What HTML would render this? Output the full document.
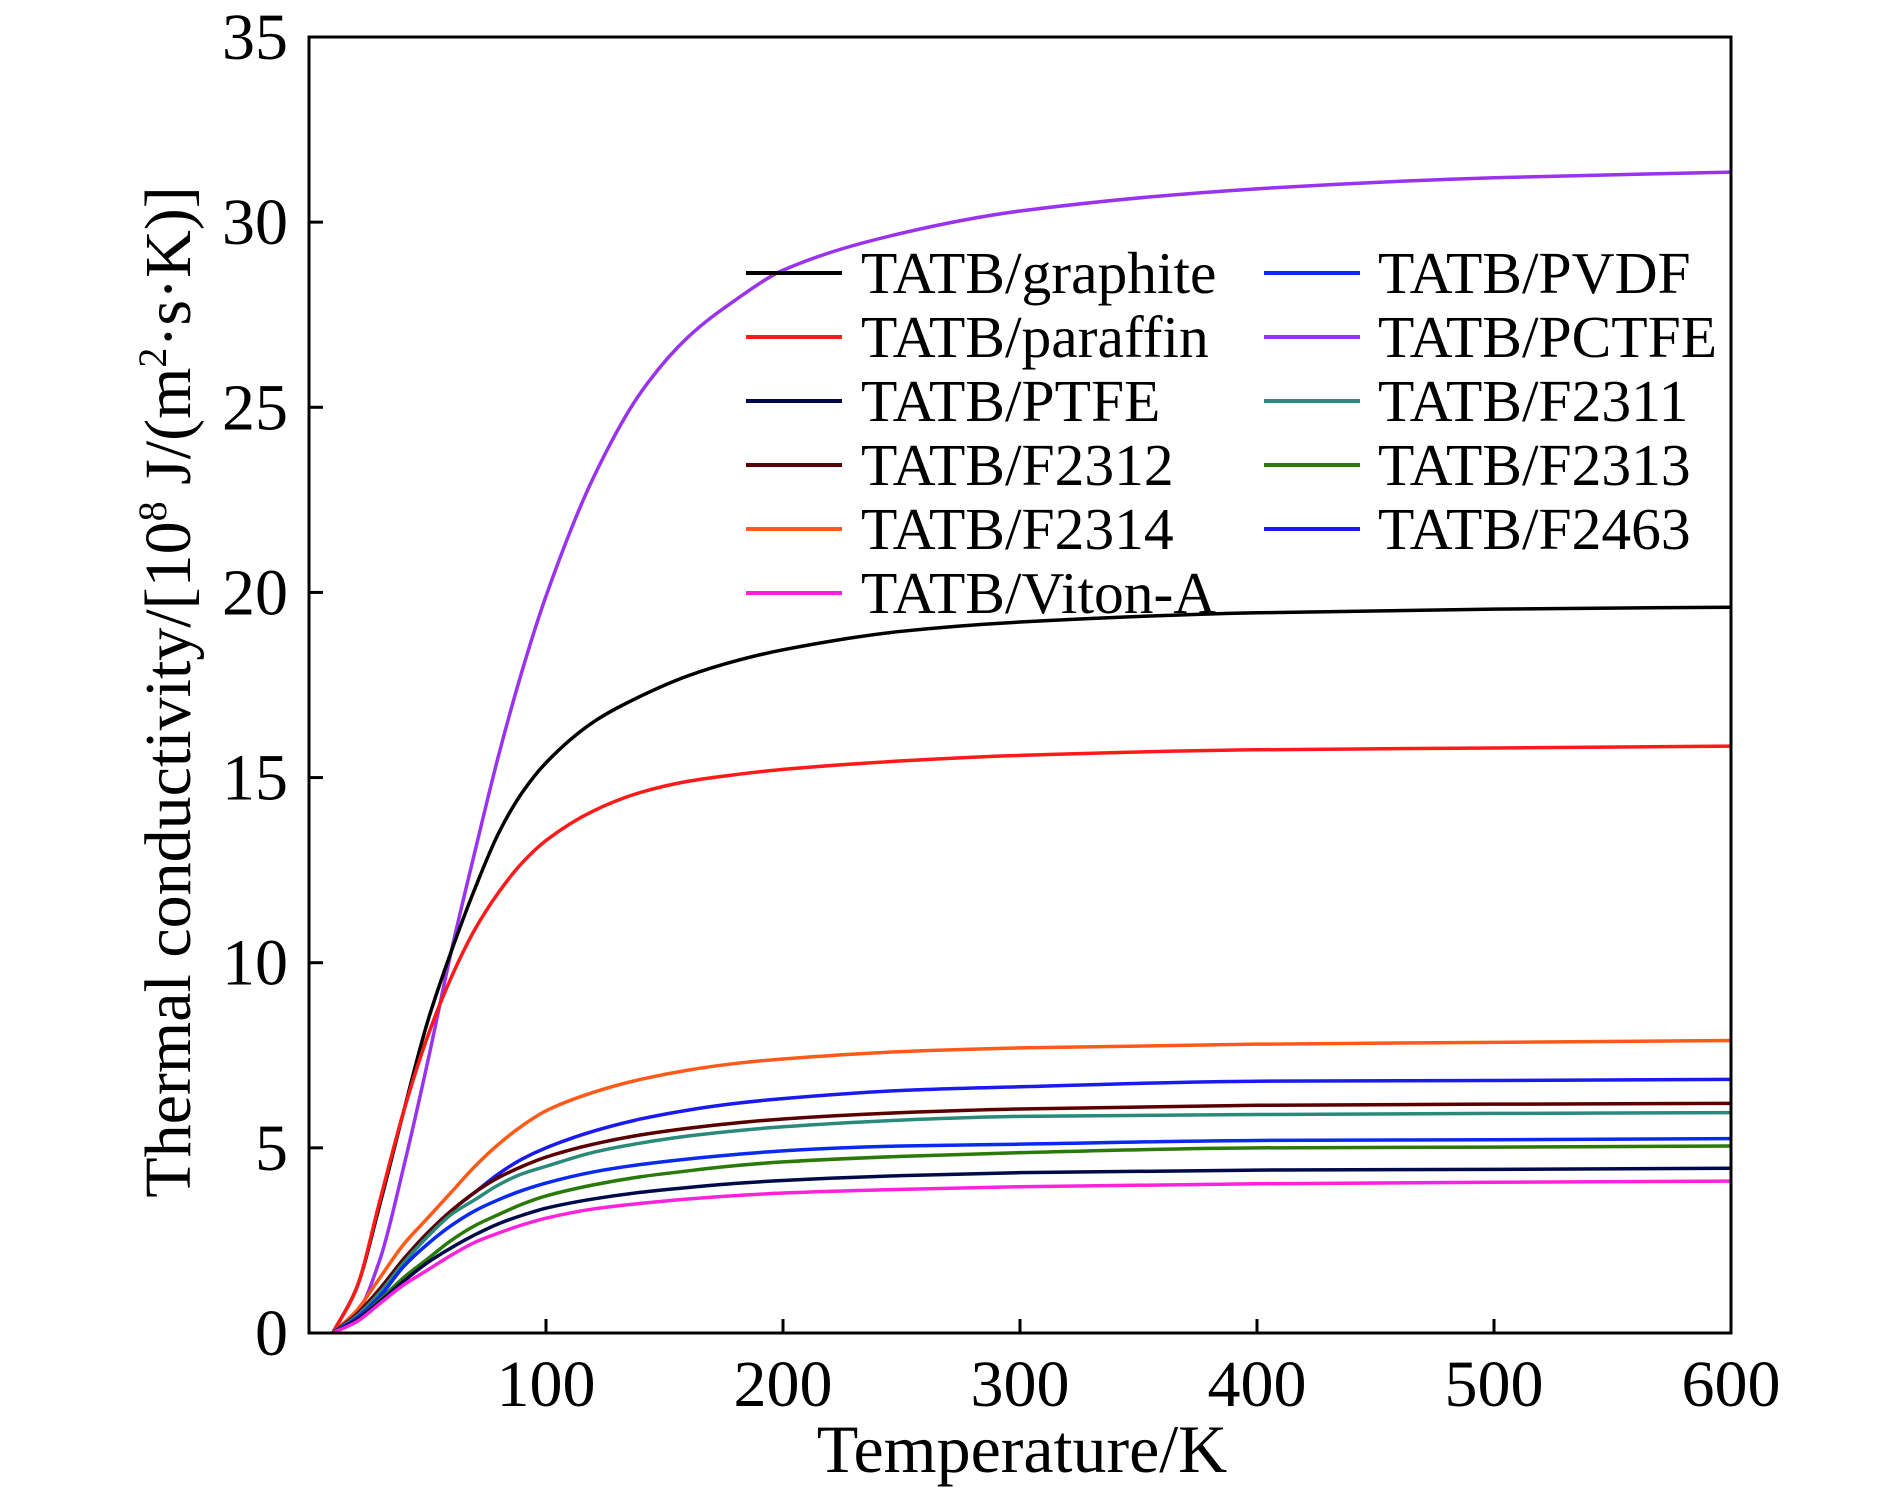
<!DOCTYPE html>
<html><head><meta charset="utf-8"><style>
html,body{margin:0;padding:0;background:#fff;}
svg{display:block;font-family:"Liberation Serif",serif;}
</style></head><body>
<svg id="chart" width="1890" height="1493" viewBox="0 0 1890 1493" xmlns="http://www.w3.org/2000/svg">
<g id="curves"></g>
<rect x="309" y="37" width="1422" height="1296" fill="none" stroke="#000" stroke-width="3"/>
<g id="ticks"></g>
<g id="legend"></g>
<text x="1022" y="1472" font-size="68" text-anchor="middle">Temperature/K</text>
<text transform="translate(190,692) rotate(-90)" font-size="66" text-anchor="middle">Thermal conductivity/[10<tspan font-size="40" dy="-24">8</tspan><tspan dy="24"> J/(m</tspan><tspan font-size="40" dy="-24">2</tspan><tspan dy="24">·s·K)]</tspan></text>
</svg>
<script>
const temps = [10,20,30,40,50,60,70,80,90,100,120,140,160,180,200,250,300,400,500,600];
const graphite = [0,1.2,3.5,6.0,8.4,10.3,12.0,13.5,14.6,15.4,16.5,17.2,17.75,18.15,18.45,18.95,19.2,19.45,19.55,19.6];
const paraffin = [0,1.2,3.6,6.0,8.0,9.6,10.9,11.9,12.7,13.3,14.1,14.6,14.9,15.08,15.22,15.45,15.6,15.75,15.8,15.85];
const pctfe = [0,0.5,2.0,4.5,7.3,10.3,13.0,15.6,17.9,19.9,23.1,25.4,26.9,27.9,28.7,29.7,30.3,30.9,31.2,31.35];
const f2314 = [0,0.6,1.5,2.4,3.1,3.8,4.5,5.1,5.6,6.0,6.5,6.85,7.1,7.28,7.4,7.6,7.7,7.8,7.85,7.9];
const f2463 = [0,0.5,1.2,2.0,2.7,3.3,3.8,4.3,4.7,5.0,5.45,5.78,6.02,6.2,6.33,6.55,6.65,6.8,6.82,6.85];
const f2312 = [0,0.5,1.2,2.0,2.7,3.3,3.8,4.2,4.5,4.75,5.1,5.35,5.53,5.67,5.78,5.95,6.05,6.15,6.18,6.2];
const f2311 = [0,0.45,1.1,1.9,2.6,3.2,3.6,4.0,4.3,4.5,4.88,5.13,5.32,5.46,5.57,5.75,5.85,5.9,5.93,5.95];
const pvdf = [0,0.4,1.0,1.8,2.4,2.9,3.3,3.6,3.85,4.05,4.35,4.55,4.7,4.82,4.92,5.05,5.1,5.2,5.22,5.25];
const f2313 = [0,0.35,0.9,1.5,2.0,2.5,2.9,3.2,3.48,3.7,4.0,4.22,4.38,4.52,4.62,4.77,4.87,5.0,5.02,5.05];
const ptfe = [0,0.35,0.85,1.4,1.9,2.3,2.65,2.95,3.18,3.37,3.62,3.8,3.93,4.04,4.12,4.25,4.33,4.4,4.42,4.45];
const viton = [0,0.3,0.8,1.3,1.7,2.1,2.45,2.7,2.92,3.1,3.35,3.5,3.62,3.71,3.78,3.88,3.95,4.03,4.07,4.1];
const seriesNames = ["TATB/graphite","TATB/paraffin","TATB/PTFE","TATB/F2312","TATB/F2314","TATB/Viton-A","TATB/PVDF","TATB/PCTFE","TATB/F2311","TATB/F2313","TATB/F2463"];
const seriesColors = ["#000000","#ff1a1a","#000a4a","#5a0000","#ff5a1a","#ff22dd","#0a2af0","#9933ee","#2a8a7a","#2a7a0a","#1a1aee"];
const seriesData = [graphite,paraffin,ptfe,f2312,f2314,viton,pvdf,pctfe,f2311,f2313,f2463];
const xTicks = [100,200,300,400,500,600];
const yTicks = [0,5,10,15,20,25,30,35];

const NS = "http://www.w3.org/2000/svg";
const X0=309, X1=1731, Y0=1333, Y1=37;
function xs(t){return X0 + t/600*(X1-X0);}
function ys(v){return Y0 - v/35*(Y0-Y1);}
function mk(tag, attrs, parent){const e=document.createElementNS(NS,tag);for(const k in attrs)e.setAttribute(k,attrs[k]);parent.appendChild(e);return e;}

function monoPath(px,py){
  const n=px.length, d=[], m=new Array(n);
  for(let i=0;i<n-1;i++) d.push((py[i+1]-py[i])/(px[i+1]-px[i]));
  m[0]=d[0]; m[n-1]=d[n-2];
  for(let i=1;i<n-1;i++){
    if(d[i-1]*d[i]<=0) m[i]=0;
    else { const h0=px[i]-px[i-1], h1=px[i+1]-px[i]; const w1=2*h1+h0, w2=h1+2*h0; m[i]=(w1+w2)/(w1/d[i-1]+w2/d[i]); }
  }
  let s="M"+px[0]+","+py[0];
  for(let i=0;i<n-1;i++){
    const h=(px[i+1]-px[i])/3;
    s+=" C"+(px[i]+h)+","+(py[i]+m[i]*h)+" "+(px[i+1]-h)+","+(py[i+1]-m[i+1]*h)+" "+px[i+1]+","+py[i+1];
  }
  return s;
}

const curves=document.getElementById('curves');
const drawOrder=[7,0,1,4,10,3,8,6,9,2,5];
drawOrder.forEach(i=>{
  const px=temps.map(t=>xs(t)), py=seriesData[i].map(v=>ys(v));
  const p=mk('path',{d:monoPath(px,py),fill:'none',stroke:seriesColors[i],'stroke-width':3.5},curves);
  
  
});

const ticks=document.getElementById('ticks');
xTicks.forEach(t=>{
  const l=mk('line',{x1:xs(t),x2:xs(t),y1:Y0,y2:Y0-14,stroke:'#000','stroke-width':3},ticks);
  
  
  const tx=mk('text',{x:xs(t),y:1406,'font-size':66,'text-anchor':'middle'},ticks);
  tx.textContent=t;
  
  
});
yTicks.forEach(v=>{
  const l=mk('line',{x1:X0,x2:X0+14,y1:ys(v),y2:ys(v),stroke:'#000','stroke-width':3},ticks);
  
  
  const tx=mk('text',{x:288,y:ys(v)+22,'font-size':66,'text-anchor':'end'},ticks);
  tx.textContent=v;
  
  
});

const legend=document.getElementById('legend');
seriesNames.forEach((n,i)=>{
  const col=i<6?0:1, row=i<6?i:i-6;
  const y=273+row*64;
  const lx=col?1264:746, tx0=col?1378:861;
  const l=mk('line',{x1:lx,x2:lx+96,y1:y,y2:y,stroke:seriesColors[i],'stroke-width':4},legend);
  
  
  const t=mk('text',{x:tx0,y:y+20,'font-size':59.5},legend);
  t.textContent=n;
  
  
});
</script>
</body></html>
